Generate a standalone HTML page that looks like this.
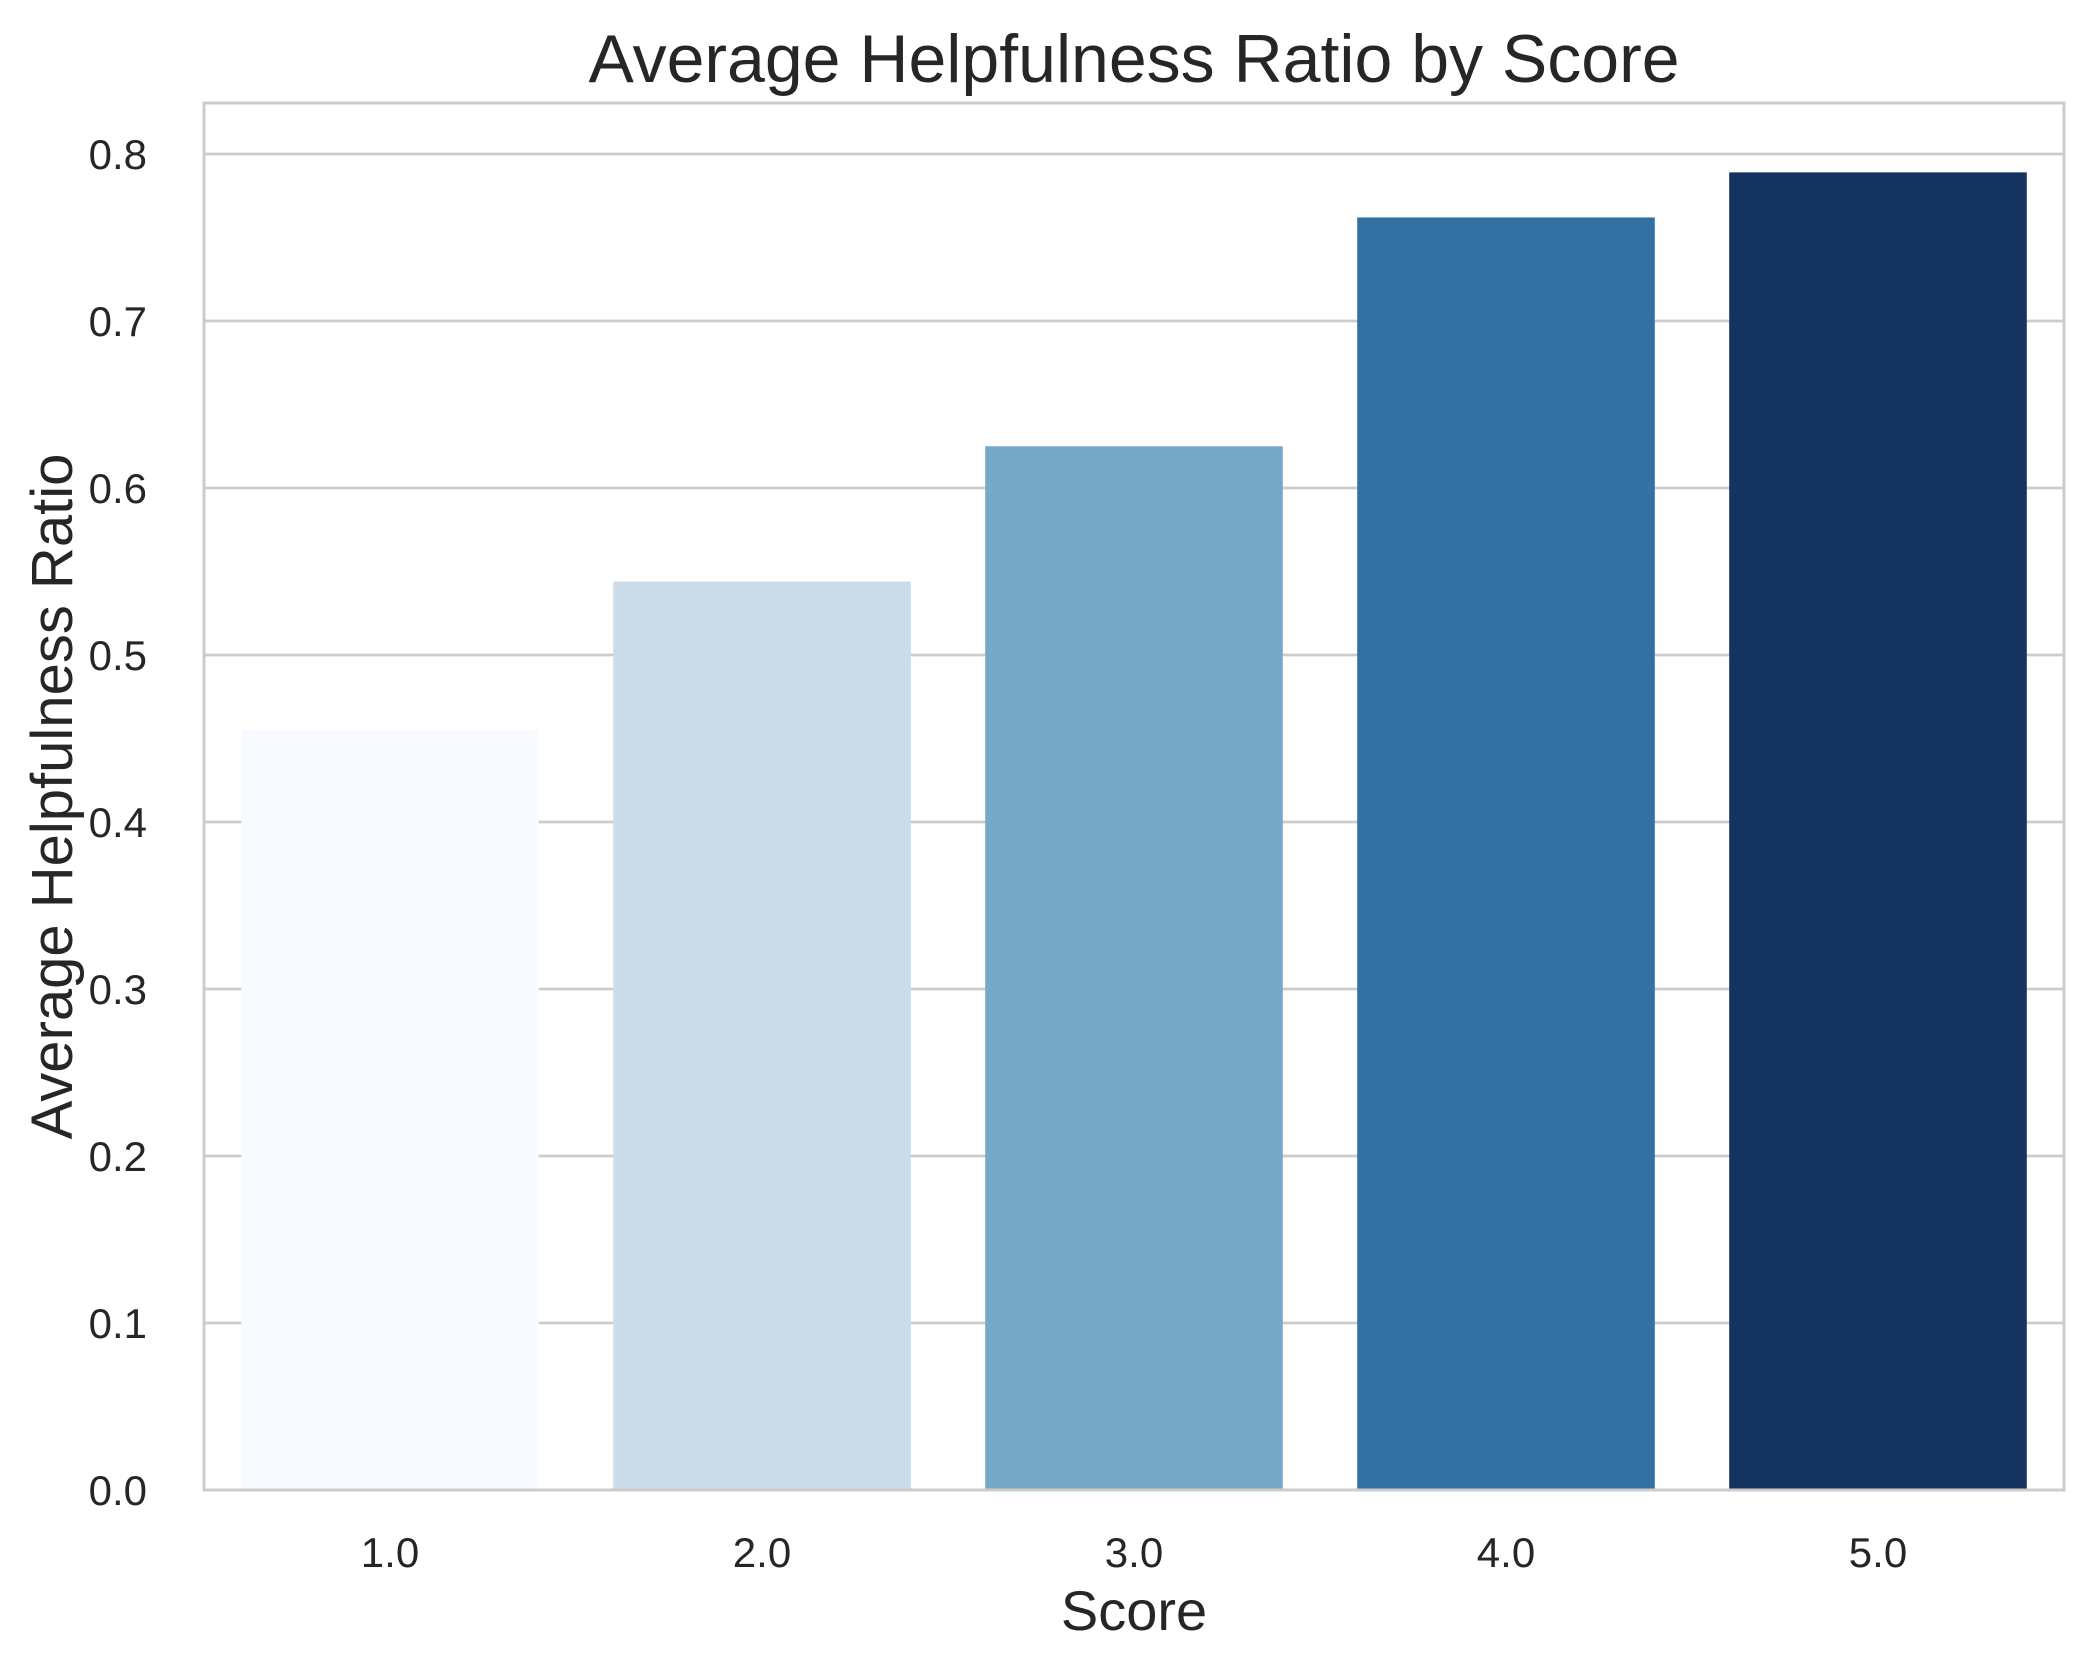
<!DOCTYPE html>
<html><head><meta charset="utf-8"><style>
html,body{margin:0;padding:0;background:#fff;}
svg{display:block;font-family:"Liberation Sans",Arial,sans-serif;}
</style></head><body>
<svg id="chart" width="2095" height="1674" viewBox="0 0 2095 1674"></svg>
<script>
const categories = ["1.0","2.0","3.0","4.0","5.0"];
const values = [0.455, 0.544, 0.625, 0.762, 0.789];
const colors = ["#f7fbff","#cbdcea","#78a8c8","#3370a3","#15335f"];
const yTicks = [0,0.1,0.2,0.3,0.4,0.5,0.6,0.7,0.8];
const yTickLabels = ["0.0","0.1","0.2","0.3","0.4","0.5","0.6","0.7","0.8"];

const NS="http://www.w3.org/2000/svg";
const svg=document.getElementById('chart');
const L=204,R=2064,T=103,B=1490;
const yMax=0.8*(B-T)/(B-154);
function y(v){return B-(v/yMax)*(B-T);}
const step=(R-L)/categories.length;
function xc(i){return L+step*(i+0.5);}
function mk(tag,attrs){const e=document.createElementNS(NS,tag);for(const k in attrs)e.setAttribute(k,attrs[k]);svg.appendChild(e);return e;}

yTicks.forEach((t,i)=>{
  const g=mk('line',{x1:L,x2:R,y1:y(t),y2:y(t),stroke:'#cccccc','stroke-width':2.7});
  
  
  const tx=mk('text',{x:147,y:y(t)+15,'text-anchor':'end','font-size':42,fill:'#262626'});
  tx.textContent=yTickLabels[i];
  
  
});
const bw=step*0.8;
values.forEach((v,i)=>{
  const r=mk('rect',{x:xc(i)-bw/2,y:y(v),width:bw,height:B-y(v),fill:colors[i]});
  
  
  const tx=mk('text',{x:xc(i),y:1567,'text-anchor':'middle','font-size':42,fill:'#262626'});
  tx.textContent=categories[i];
  
  
});
const fr=mk('rect',{x:L,y:T,width:R-L,height:B-T,fill:'none',stroke:'#cccccc','stroke-width':3});


const ti=mk('text',{x:(L+R)/2,y:82,'text-anchor':'middle','font-size':68,fill:'#262626'});
ti.textContent='Average Helpfulness Ratio by Score';


const xl=mk('text',{x:(L+R)/2,y:1630,'text-anchor':'middle','font-size':56,fill:'#262626'});
xl.textContent='Score';


const yl=mk('text',{x:0,y:0,'text-anchor':'middle','font-size':58,fill:'#262626',transform:'translate(72,'+((T+B)/2)+') rotate(-90)'});
yl.textContent='Average Helpfulness Ratio';


</script>
</body></html>
